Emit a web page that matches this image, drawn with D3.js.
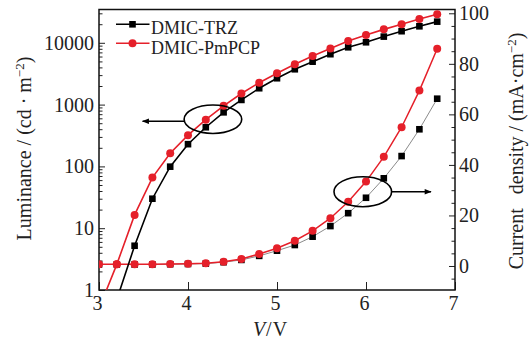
<!DOCTYPE html>
<html>
<head>
<meta charset="utf-8">
<script src="https://cdn.jsdelivr.net/npm/d3@7"></script>
<style>
  html, body { margin: 0; padding: 0; background: #fff; }
  svg { display: block; }
  text { font-family: "Liberation Serif", "DejaVu Serif", serif; fill: #222; }
</style>
</head>
<body>
<svg id="chart" width="529" height="343"></svg>
<script>
// Applied voltage (V)
const voltage = [3.0, 3.2, 3.4, 3.6, 3.8, 4.0, 4.2, 4.4, 4.6, 4.8, 5.0, 5.2, 5.4, 5.6, 5.8, 6.0, 6.2, 6.4, 6.6, 6.8];

// Luminance (cd·m^-2), left log axis
const lumTRZ   = [null, 0.7, 5.2, 30, 99, 229, 430, 750, 1190, 1840, 2670, 3730, 4950, 6540, 8460, 10200, 12600, 15400, 18500, 22000];
const lumPmPCP = [0.5, 2.6, 16.4, 66, 163, 320, 570, 957, 1510, 2260, 3210, 4490, 6120, 8060, 10700, 13400, 16500, 19900, 24300, 28900];

// Current density (mA·cm^-2), right linear axis
const curTRZ   = [0.6, 0.6, 0.6, 0.6, 0.7, 0.8, 0.95, 1.5, 2.4, 4.0, 6.05, 8.3, 11.6, 15.8, 20.9, 27.0, 34.7, 43.5, 54.1, 66.2];
const curPmPCP = [0.67, 0.67, 0.67, 0.7, 0.8, 0.9, 1.07, 1.7, 2.77, 4.75, 7.0, 10.0, 13.9, 18.9, 25.4, 33.4, 43.2, 54.9, 69.4, 86.0];

// Axis ticks
const xTicks = [3, 4, 5, 6, 7];
const lumTicks = [1, 10, 100, 1000, 10000];
const curTicks = [0, 20, 40, 60, 80, 100];

const seriesNames = ["DMIC-TRZ", "DMIC-PmPCP"];

const RED = "#e5202a";
const BLACK = "#000";

const svg = d3.select("#chart");
const plotL = 99, plotR = 455, plotT = 9.5, plotB = 290;

const x = d3.scaleLinear().domain([3, 7]).range([plotL, plotR]);
const yL = d3.scaleLog().domain([1, Math.pow(10, 4.539)]).range([plotB, plotT]);
const yR = d3.scaleLinear().domain([-9.5, 101.5]).range([plotB, plotT]);

const defs = svg.append("defs");
defs.append("clipPath").attr("id", "plot-clip")
  .append("rect").attr("x", plotL).attr("y", plotT)
  .attr("width", plotR - plotL).attr("height", plotB - plotT);

defs.append("marker")
  .attr("id", "arrowhead").attr("viewBox", "0 0 10 10")
  .attr("refX", 9).attr("refY", 5)
  .attr("markerWidth", 9).attr("markerHeight", 7)
  .attr("markerUnits", "userSpaceOnUse")
  .attr("orient", "auto")
  .append("path").attr("d", "M0,1 L10,5 L0,9 Z").attr("fill", "#000");

// ----- Axes -----
const fs = "20px";

// left luminance axis: majors and decade minors, ticks pointing inward
const lumMinor = [];
for (let d = 0; d <= 4; d++) {
  for (let k = 2; k <= 9; k++) {
    const v = k * Math.pow(10, d);
    if (v < yL.domain()[1]) lumMinor.push(v);
  }
}
const gL = svg.append("g").attr("transform", `translate(${plotL},0)`);
gL.call(d3.axisLeft(yL).tickValues(lumTicks).tickSize(-6).tickPadding(5).tickFormat(d3.format("d")));
gL.append("g").call(d3.axisLeft(yL).tickValues(lumMinor).tickSize(-3.5).tickFormat(""));

// right current-density axis
const curMinor = d3.range(-5, 101, 5).filter(v => v % 20 !== 0);
const gR = svg.append("g").attr("transform", `translate(${plotR},0)`);
gR.call(d3.axisRight(yR).tickValues(curTicks).tickSize(-6).tickPadding(4));
gR.append("g").call(d3.axisRight(yR).tickValues(curMinor).tickSize(-3.5).tickFormat(""));

// bottom voltage axis
const gB = svg.append("g").attr("transform", `translate(0,${plotB})`);
gB.call(d3.axisBottom(x).tickValues(xTicks).tickSize(-8).tickPadding(6).tickFormat(d3.format("d")));

[gL, gR, gB].forEach(g => {
  g.selectAll(".domain").remove();
  g.selectAll("line").attr("stroke", "#222").attr("stroke-width", 1);
  g.selectAll("text").attr("font-size", fs)
    .attr("font-family", '"Liberation Serif", "DejaVu Serif", serif').attr("fill", "#222");
});
gB.selectAll("text").attr("dy", "0.71em").attr("dx", "-2");

// plot frame
svg.append("rect").attr("x", plotL).attr("y", plotT)
  .attr("width", plotR - plotL).attr("height", plotB - plotT)
  .attr("fill", "none").attr("stroke", "#111").attr("stroke-width", 1.5);

// ----- Data -----
const plot = svg.append("g").attr("clip-path", "url(#plot-clip)");

function series(values, yScale, lineColor, lineWidth, marker, markerColor) {
  const pts = voltage.map((v, i) => [v, values[i]]).filter(d => d[1] != null);
  plot.append("path")
    .attr("d", d3.line().x(d => x(d[0])).y(d => yScale(d[1]))(pts))
    .attr("fill", "none").attr("stroke", lineColor).attr("stroke-width", lineWidth);
  const g = plot.append("g");
  if (marker === "square") {
    g.selectAll("rect").data(pts).join("rect")
      .attr("x", d => x(d[0]) - 3.3).attr("y", d => yScale(d[1]) - 3.3)
      .attr("width", 6.6).attr("height", 6.6).attr("fill", markerColor);
  } else {
    g.selectAll("circle").data(pts).join("circle")
      .attr("cx", d => x(d[0])).attr("cy", d => yScale(d[1]))
      .attr("r", 4).attr("fill", markerColor);
  }
}

// current density
series(curTRZ, yR, "#8a8a8a", 1, "square", BLACK);
series(curPmPCP, yR, RED, 1.5, "circle", RED);
// luminance
series(lumTRZ, yL, BLACK, 1.6, "square", BLACK);
series(lumPmPCP, yL, RED, 1.6, "circle", RED);

// ----- Annotations: ellipses with arrows pointing to each axis -----
const e1 = { cx: x(4.28), cy: yL(580), rx: 28.8, ry: 14.2 };
svg.append("ellipse").attr("cx", e1.cx).attr("cy", e1.cy).attr("rx", e1.rx).attr("ry", e1.ry)
  .attr("fill", "none").attr("stroke", "#000").attr("stroke-width", 1.6);
svg.append("line").attr("x1", e1.cx - e1.rx).attr("y1", e1.cy + 2)
  .attr("x2", x(3.49)).attr("y2", e1.cy + 2)
  .attr("stroke", "#000").attr("stroke-width", 1.4).attr("marker-end", "url(#arrowhead)");

const e2 = { cx: x(5.964), cy: yR(29.4), rx: 28.8, ry: 15 };
svg.append("ellipse").attr("cx", e2.cx).attr("cy", e2.cy).attr("rx", e2.rx).attr("ry", e2.ry)
  .attr("fill", "none").attr("stroke", "#000").attr("stroke-width", 1.6);
svg.append("line").attr("x1", e2.cx + e2.rx).attr("y1", e2.cy)
  .attr("x2", x(6.73)).attr("y2", e2.cy)
  .attr("stroke", "#000").attr("stroke-width", 1.4).attr("marker-end", "url(#arrowhead)");

// ----- Legend -----
const legend = svg.append("g");
[[BLACK, "square", 24.3, 33.5], [RED, "circle", 43.3, 53.5]].forEach((cfg, i) => {
  const [c, m, ly, ty] = cfg;
  legend.append("line").attr("x1", 116).attr("x2", 149.5).attr("y1", ly).attr("y2", ly)
    .attr("stroke", c).attr("stroke-width", 1.6);
  if (m === "square") {
    legend.append("rect").attr("x", 132.5 - 3.3).attr("y", ly - 3.3).attr("width", 6.6).attr("height", 6.6).attr("fill", c);
  } else {
    legend.append("circle").attr("cx", 132.5).attr("cy", ly).attr("r", 4).attr("fill", c);
  }
  legend.append("text").attr("x", 151).attr("y", ty).attr("font-size", "18px").text(seriesNames[i]);
});

// ----- Axis titles -----
const xt = svg.append("text").attr("x", 270).attr("y", 336).attr("text-anchor", "middle").attr("font-size", fs);
xt.append("tspan").attr("font-style", "italic").text("V");
xt.append("tspan").attr("dx", 1).text("/");
xt.append("tspan").attr("dx", 1).text("V");

const lt = svg.append("text").attr("transform", "translate(31,148.5) rotate(-90)")
  .attr("text-anchor", "middle").attr("font-size", fs);
lt.append("tspan").text("Luminance / (cd · m");
lt.append("tspan").attr("dy", -7).attr("font-size", "13px").text("−2");
lt.append("tspan").attr("dy", 7).text(")");

const rt = svg.append("text").attr("transform", "translate(523,151) rotate(-90)")
  .attr("text-anchor", "middle").attr("font-size", fs);
rt.append("tspan").text("Current");
rt.append("tspan").attr("dx", 14).text("density / (mA·cm");
rt.append("tspan").attr("dy", -7).attr("font-size", "13px").text("−2");
rt.append("tspan").attr("dy", 7).text(")");
</script>
</body>
</html>
